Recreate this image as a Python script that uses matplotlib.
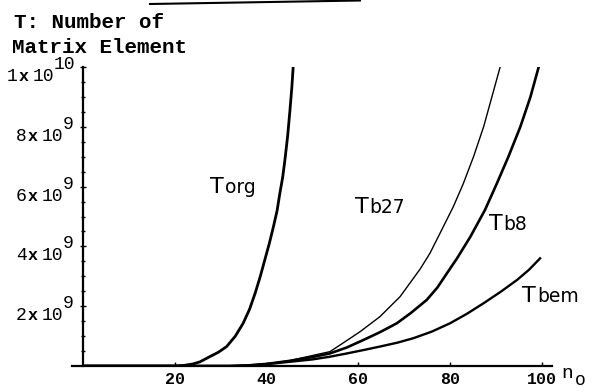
import numpy as np
import matplotlib
matplotlib.use("Agg")
import matplotlib.pyplot as plt
from matplotlib.lines import Line2D

# values (y in units of 1e9)
n_org = [0, 20, 22, 24, 25.5, 27.6, 29.5, 31.3, 33.2, 34.9, 36.3, 37.5, 38.6, 39.6,
         40.6, 41.5, 42.3, 42.9, 43.5, 44.0, 44.6, 45.1, 45.5, 45.8]
t_org = [0, 0, 0.02, 0.07, 0.14, 0.31, 0.46, 0.65, 1.0, 1.43, 1.9, 2.43, 2.98, 3.54,
         4.1, 4.66, 5.2, 5.78, 6.3, 6.89, 7.7, 8.56, 9.3, 10.0]

n_b27 = [0, 32, 36, 40, 45, 50, 53.8, 56.0, 60.4, 64.7, 69.1, 73.5, 75.6, 77.8,
         80.7, 82.9, 85.1, 87.3, 89.1, 90.9]
t_b27 = [0, 0, 0.02, 0.07, 0.18, 0.35, 0.48, 0.70, 1.15, 1.65, 2.32, 3.25, 3.77, 4.44,
         5.33, 6.11, 7.0, 8.0, 9.0, 10.0]

n_b8 = [0, 32, 36, 40, 45, 50, 53.8, 57.5, 61.1, 64.7, 68.4, 71.5, 74.9, 77.2, 79.3,
        81.5, 84.4, 87.6, 90.2, 92.7, 95.3, 97.5, 99.3]
t_b8 = [0, 0, 0.02, 0.07, 0.17, 0.30, 0.42, 0.62, 0.87, 1.13, 1.43, 1.78, 2.21, 2.62, 3.10,
        3.6, 4.32, 5.22, 6.11, 7.0, 8.0, 9.0, 10.0]

n_bem = [0, 32, 36, 40, 45, 50, 53.8, 57.5, 61, 64.7, 68.5, 72.0, 76, 80.0, 83.7,
         87.3, 91, 94.6, 97.2, 99.6]
t_bem = [0, 0, 0.02, 0.06, 0.14, 0.22, 0.31, 0.42, 0.53, 0.65, 0.78, 0.93, 1.15, 1.43, 1.75,
         2.10, 2.48, 2.88, 3.22, 3.60]

y_ticks = [2, 4, 6, 8, 10]
y_mant = ['2', '4', '6', '8', '1']
y_exp = ['9', '9', '9', '9', '10']
x_ticks = [20, 40, 60, 80, 100]

W, H = 592, 392
fig = plt.figure(figsize=(W/100, H/100), dpi=100)
ax = fig.add_axes([83/W, 1-366/H, (552-83)/W, (366-67)/H])

ax.plot(n_org, t_org, color='k', lw=2.0)
ax.plot(n_b27, t_b27, color='k', lw=1.0)
ax.plot(n_b8, t_b8, color='k', lw=1.9)
ax.plot(n_bem, t_bem, color='k', lw=1.7)

ax.set_xlim(0, 102.2)
ax.set_ylim(0, 10)

for s in ['top', 'right']:
    ax.spines[s].set_visible(False)
ax.spines['left'].set_linewidth(1.6)
ax.spines['bottom'].set_linewidth(1.6)
ax.spines['bottom'].set_bounds(-2.4, 102.2)

ax.set_xticks(x_ticks)
ax.set_xticklabels([str(v) for v in x_ticks], family='Liberation Mono',
                   fontsize=12, fontweight='bold')
ax.tick_params(axis='x', direction='in', length=3, width=1, pad=4)

ax.set_yticks(y_ticks)
ax.set_yticklabels([])
ax.set_yticks(np.arange(0.5, 10, 0.5), minor=True)
ax.tick_params(axis='y', which='major', direction='inout', length=5, width=1)
ax.tick_params(axis='y', which='minor', direction='inout', length=3, width=1)

# y tick labels drawn as "2x10" plus a raised exponent, in pixel positions
def px(x, y):
    return x / W, 1 - y / H

for v, m, e in zip(y_ticks, y_mant, y_exp):
    ty = ax.transData.transform((0, v))[1]
    ty = H - ty
    sup_left = 79 - 16 - 9 * (len(e) - 1)
    fm = dict(family='Liberation Mono', fontsize=13, va='baseline', ha='left')
    fig.text(*px(sup_left - 47, ty + 14), m, **fm)
    fig.text(*px(sup_left - 35, ty + 14), 'x', family='Liberation Mono',
             fontsize=12, fontweight='bold', va='baseline', ha='left')
    fig.text(*px(sup_left - 21, ty + 14), '10', **fm)
    fig.text(*px(sup_left, ty + 2), e, **fm)

# curve labels
def curve_label(x, y, sub):
    ax.text(x, y, 'T', fontsize=16, family='DejaVu Sans', va='baseline', ha='left')
    ax.annotate(sub, xy=(x, y), xytext=(10.5, 0), textcoords='offset points',
                fontsize=13.5, family='DejaVu Sans', va='baseline', ha='left')

curve_label(27.7, 5.8, 'org')
curve_label(59.2, 5.12, 'b27')
curve_label(88.4, 4.55, 'b8')
curve_label(95.7, 2.14, 'bem')

fig.text(*px(14, 28), 'T: Number of', family='Liberation Mono',
         fontweight='bold', fontsize=15, va='baseline')
fig.text(*px(12, 53), 'Matrix Element', family='Liberation Mono',
         fontweight='bold', fontsize=15, va='baseline')
fig.text(*px(561, 378), 'n', family='Liberation Mono', fontsize=14, va='baseline')
fig.text(*px(575, 385), 'o', family='Liberation Mono', fontsize=13, va='baseline')

# scan artifact line at the top edge
fig.add_artist(Line2D([150/W, 360/W], [1-4/H, 1-0.5/H],
                      transform=fig.transFigure, color='k', lw=1.5))

fig.savefig('out.png', dpi=100)
